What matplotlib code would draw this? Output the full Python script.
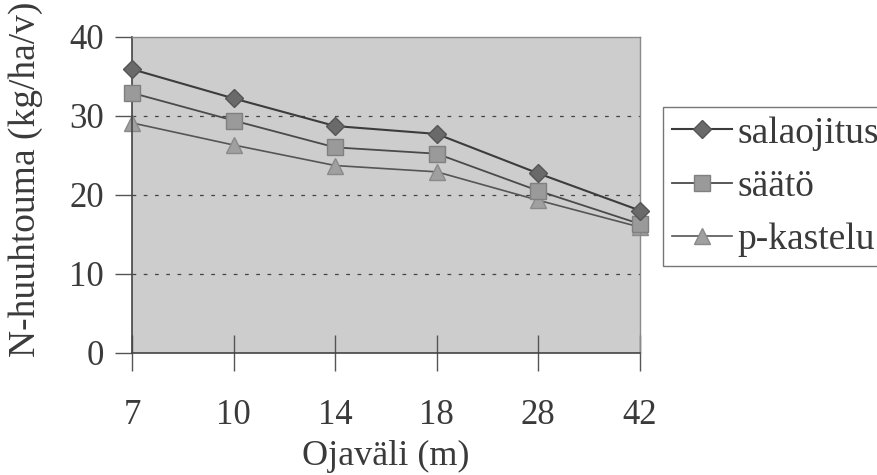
"""
N-huuhtouma ojavälin funktiona: kolme käsittelyä viivakaaviona
"""
import matplotlib
matplotlib.use("Agg")
import matplotlib.pyplot as plt

# data luettu kuvasta
ojavali = ["7", "10", "14", "18", "28", "42"]
salaojitus = [35.9, 32.2, 28.7, 27.7, 22.7, 18.0]
saato = [32.9, 29.4, 26.0, 25.2, 20.5, 16.3]
p_kastelu = [29.1, 26.3, 23.7, 22.9, 19.3, 15.9]

plt.rcParams["font.family"] = ["Liberation Serif", "DejaVu Serif"]
text_col = "#3a3a3a"

fig = plt.figure(figsize=(8.78, 4.75), dpi=100)
ax = fig.add_axes([0.1503, 0.2575, 0.5786, 0.665])
ax.set_facecolor("#cdcdcd")

x = range(len(ojavali))
ax.plot(x, salaojitus, color="#3c3c3c", lw=1.5, marker="D", ms=9,
        mfc="#6a6a6a", mec="#555555", label="salaojitus", clip_on=False, zorder=4)
ax.plot(x, saato, color="#4a4a4a", lw=1.3, marker="s", ms=11,
        mfc="#9a9a9a", mec="#808080", label="säätö", clip_on=False, zorder=3)
ax.plot(x, p_kastelu, color="#555555", lw=1.2, marker="^", ms=11,
        mfc="#a0a0a0", mec="#8a8a8a", label="p-kastelu", clip_on=False, zorder=2)

ax.set_xlim(0, len(ojavali) - 1)
ax.set_ylim(0, 40)
ax.set_yticks([0, 10, 20, 30, 40])
ax.set_xticks(list(x))
ax.set_xticklabels(ojavali)

# katkoviivaiset apuviivat
for yv in [10, 20, 30]:
    ax.axhline(yv, color="#444444", lw=0.9, ls=(0, (3, 6)), zorder=1)

for side in ["top", "right"]:
    ax.spines[side].set_color("#8a8a8a")
    ax.spines[side].set_linewidth(1.0)
for side in ["left", "bottom"]:
    ax.spines[side].set_color("#444444")
    ax.spines[side].set_linewidth(1.2)

ax.tick_params(axis="both", width=1, color="#555555",
               labelsize=25, labelcolor=text_col)
ax.tick_params(axis="y", direction="out", length=12, pad=8)
ax.tick_params(axis="x", direction="inout", length=26, pad=20)

ax.set_xlabel("Ojaväli (m)", fontsize=26, color=text_col, labelpad=6)
ax.set_ylabel("N-huuhtouma (kg/ha/v)", fontsize=27, color=text_col)
ax.yaxis.set_label_coords(-0.175, 0.55)

leg = ax.legend(loc="center left", bbox_to_anchor=(1.045, 0.526), fontsize=27,
                frameon=True, fancybox=False, edgecolor="#555555",
                handlelength=1.6, handletextpad=0.15, borderpad=0.25,
                labelspacing=0.5, borderaxespad=0)
leg.get_frame().set_linewidth(1.0)
for t in leg.get_texts():
    t.set_color(text_col)

fig.savefig("out.png", dpi=100, facecolor="white")
